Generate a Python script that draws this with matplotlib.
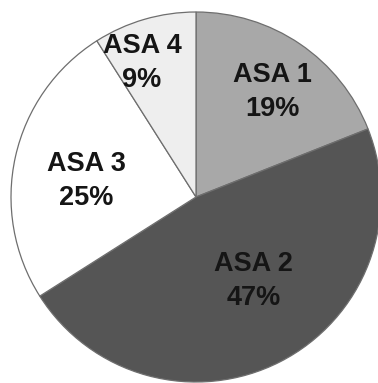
import matplotlib
matplotlib.use("Agg")
import matplotlib.pyplot as plt
import numpy as np

# ASA physical status classes and their share of patients
categories = ["ASA 1", "ASA 2", "ASA 3", "ASA 4"]
shares = [19, 47, 25, 9]
slice_colors = ["#a8a8a8", "#555555", "#ffffff", "#eeeeee"]

# label placement: (angle in degrees, distance as fraction of radius)
label_layout = [(54, 0.70), (-55.5, 0.55), (171.6, 0.60), (112, 0.78)]

W, H = 378, 383
fig = plt.figure(figsize=(W / 100, H / 100), dpi=100)
cx, cy, r = 196, 383 - 197, 185
ax = fig.add_axes([(cx - r) / W, (cy - r) / H, 2 * r / W, 2 * r / H])

ax.pie(shares, colors=slice_colors, startangle=90, counterclock=False,
       radius=1.0,
       wedgeprops=dict(edgecolor="#6e6e6e", linewidth=0.9))
ax.set_xlim(-1, 1)
ax.set_ylim(-1, 1)
ax.set_aspect("auto")
ax.axis("off")

for name, pct, (ang, dist) in zip(categories, shares, label_layout):
    a = np.deg2rad(ang)
    ax.text(dist * np.cos(a), dist * np.sin(a), f"{name}\n{pct}%",
            ha="center", va="center", fontsize=19.5, fontweight="bold",
            family="Liberation Sans", color="#151515", linespacing=1.4)

fig.savefig("out.png", dpi=100)
